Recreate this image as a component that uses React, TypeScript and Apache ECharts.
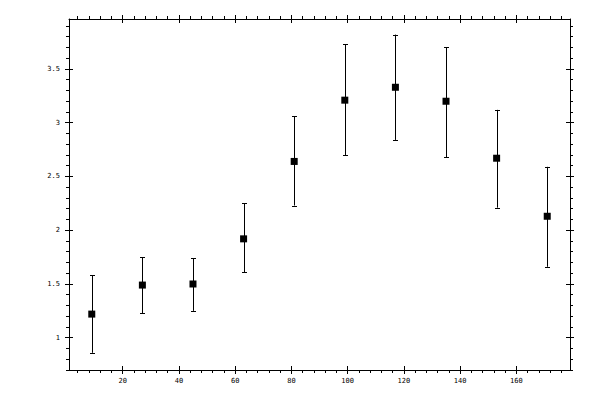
import { useEffect, useRef } from 'react'
import * as echarts from 'echarts'

// Measured points (x position, mean, lower and upper error bound)
const xValues = [9, 27, 45, 63, 81, 99, 117, 135, 153, 171]
const yValues = [1.22, 1.49, 1.5, 1.92, 2.64, 3.21, 3.33, 3.2, 2.67, 2.13]
const yLower = [0.86, 1.23, 1.25, 1.61, 2.23, 2.7, 2.84, 2.68, 2.21, 1.66]
const yUpper = [1.58, 1.75, 1.74, 2.25, 3.06, 3.73, 3.82, 3.7, 3.12, 2.59]

// Axis ranges and ticks
const xRange = [0.9, 179.1]
const yRange = [0.7, 3.965]
const xMajorTicks = [20, 40, 60, 80, 100, 120, 140, 160]
const yMajorTicks = [1, 1.5, 2, 2.5, 3, 3.5]
const xMinorStep = 4
const yMinorStep = 0.1

const stepTicks = (lo: number, hi: number, step: number) => {
  const out: number[] = []
  for (let i = Math.ceil(lo / step); i * step <= hi; i++) out.push(Math.round(i * step * 1000) / 1000)
  return out
}

const INK = '#000000'
const FONT = '"DejaVu Sans Mono", monospace'

const App: React.FC = () => {
  const chartRef = useRef<HTMLDivElement | null>(null)

  useEffect(() => {
    if (!chartRef.current) return
    document.body.style.margin = '0'
    const chart = echarts.init(chartRef.current, null, { renderer: 'svg' })

    const xMinor = stepTicks(xRange[0], xRange[1], xMinorStep)
    const yMinor = stepTicks(yRange[0], yRange[1], yMinorStep)

    const lineStyle = { color: INK, width: 1 }

    // one axis per tick layer: major outward, major inward, minor outward
    const makeX = (position: 'top' | 'bottom', layer: 'out' | 'in' | 'minor', labels: boolean) => ({
      type: 'value',
      position,
      min: xRange[0],
      max: xRange[1],
      axisLine: { show: layer === 'out', onZero: false, lineStyle },
      axisTick: {
        show: true,
        inside: layer === 'in',
        length: layer === 'minor' ? 3 : 4,
        customValues: layer === 'minor' ? xMinor : xMajorTicks,
        lineStyle,
      },
      axisLabel: {
        show: labels,
        customValues: xMajorTicks,
        color: INK,
        fontFamily: FONT,
        fontSize: 7,
        margin: 7,
      },
      splitLine: { show: false },
    })

    const makeY = (position: 'left' | 'right', layer: 'out' | 'in' | 'minor', labels: boolean) => ({
      type: 'value',
      position,
      min: yRange[0],
      max: yRange[1],
      axisLine: { show: layer === 'out', onZero: false, lineStyle },
      axisTick: {
        show: true,
        inside: layer === 'in',
        length: layer === 'minor' ? 3 : 4,
        customValues: layer === 'minor' ? yMinor : yMajorTicks,
        lineStyle,
      },
      axisLabel: {
        show: labels,
        customValues: yMajorTicks,
        color: INK,
        fontFamily: FONT,
        fontSize: 7,
        margin: 9,
      },
      splitLine: { show: false },
    })

    const option: any = {
      animation: false,
      backgroundColor: '#ffffff',
      grid: { left: 69, right: 30, top: 19, bottom: 30 },
      xAxis: [
        makeX('bottom', 'out', true),
        makeX('bottom', 'in', false),
        makeX('bottom', 'minor', false),
        makeX('top', 'out', false),
        makeX('top', 'in', false),
        makeX('top', 'minor', false),
      ],
      yAxis: [
        makeY('left', 'out', true),
        makeY('left', 'in', false),
        makeY('left', 'minor', false),
        makeY('right', 'out', false),
        makeY('right', 'in', false),
        makeY('right', 'minor', false),
      ],
      series: [
        {
          type: 'custom',
          xAxisIndex: 0,
          yAxisIndex: 0,
          data: xValues.map((x, i) => [x, yLower[i], yUpper[i]]),
          renderItem: (_params: any, api: any) => {
            const lo = api.coord([api.value(0), api.value(1)])
            const hi = api.coord([api.value(0), api.value(2)])
            const cx = Math.round(lo[0]) + 0.5
            const capHalf = 2.5
            const style = { stroke: INK, lineWidth: 1 }
            return {
              type: 'group',
              children: [
                { type: 'line', shape: { x1: cx, y1: lo[1], x2: cx, y2: hi[1] }, style },
                { type: 'line', shape: { x1: cx - capHalf, y1: Math.round(hi[1]) + 0.5, x2: cx + capHalf, y2: Math.round(hi[1]) + 0.5 }, style },
                { type: 'line', shape: { x1: cx - capHalf, y1: Math.round(lo[1]) + 0.5, x2: cx + capHalf, y2: Math.round(lo[1]) + 0.5 }, style },
              ],
            }
          },
          z: 2,
        },
        {
          type: 'scatter',
          xAxisIndex: 0,
          yAxisIndex: 0,
          data: xValues.map((x, i) => [x, yValues[i]]),
          symbol: 'rect',
          symbolSize: 7,
          itemStyle: { color: INK, opacity: 1 },
          z: 3,
        },
      ],
    }

    chart.setOption(option)

    return () => {
      chart.dispose()
    }
  }, [])

  return (
    <div
      ref={chartRef}
      style={{ position: 'fixed', left: 0, top: 0, width: 600, height: 400, background: '#ffffff' }}
    />
  )
}

export default App
